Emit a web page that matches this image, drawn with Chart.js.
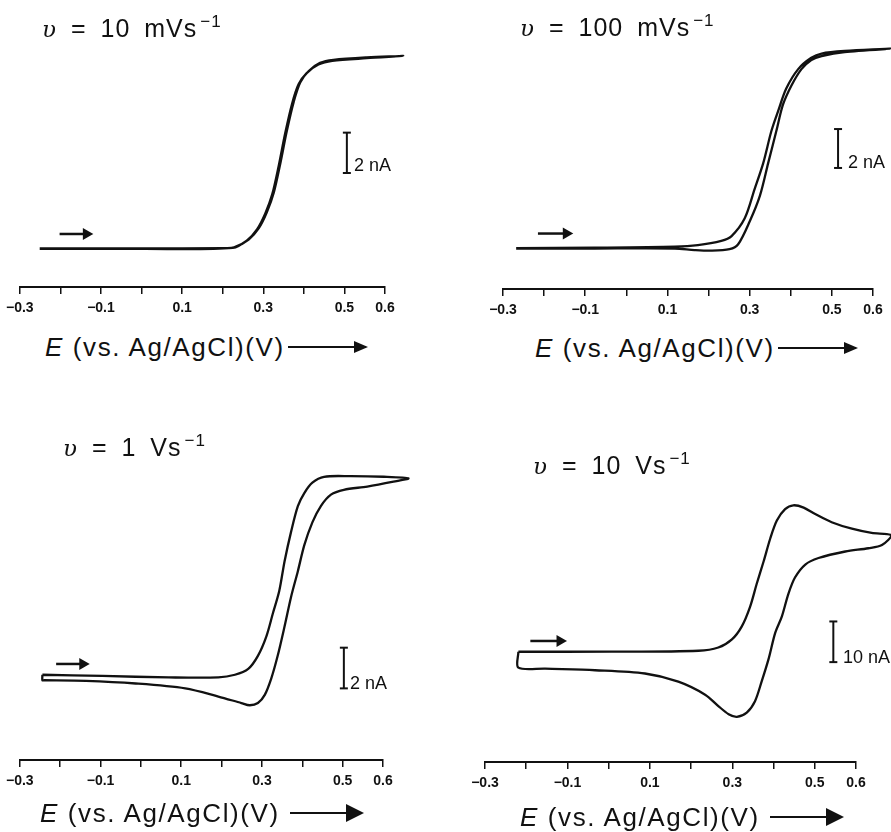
<!DOCTYPE html>
<html>
<head>
<meta charset="utf-8">
<script src="https://cdn.jsdelivr.net/npm/chart.js@4/dist/chart.umd.min.js"></script>
<style>
  html, body { margin: 0; padding: 0; background: #fff; }
  body { width: 891px; height: 832px; position: relative; overflow: hidden; font-family: "Liberation Sans", Arial, sans-serif; color: #111; }
  canvas { position: absolute; }
  .title { position: absolute; font-size: 25px; line-height: 25px; letter-spacing: 1px; word-spacing: 6px; white-space: nowrap; }
  .title i { font-family: "DejaVu Serif", serif; font-size: 23px; }
  .title sup { font-size: 17px; vertical-align: 10px; line-height: 0; margin-left: 3px; }
  .xlab { position: absolute; font-size: 26px; line-height: 26px; letter-spacing: 1.6px; white-space: nowrap; display: flex; align-items: center; }
  .arrow { position: relative; height: 2px; background: #111; margin-left: 3px; }
  .arrow::after { content: ""; position: absolute; right: -2px; top: -5px; border-left: 14px solid #111; border-top: 6px solid transparent; border-bottom: 6px solid transparent; }
  .arrow.big::after { top: -8px; border-left: 18px solid #111; border-top: 9px solid transparent; border-bottom: 9px solid transparent; }
  .scale { position: absolute; font-size: 18px; line-height: 18px; white-space: nowrap; }
</style>
</head>
<body>
<canvas id="c1" width="445" height="297" style="left:0;top:30px"></canvas>
<canvas id="c2" width="446" height="299" style="left:445px;top:30px"></canvas>
<canvas id="c3" width="445" height="340" style="left:0;top:460px"></canvas>
<canvas id="c4" width="446" height="332" style="left:445px;top:470px"></canvas>

<div class="title" style="left:42px;top:16px"><i>υ</i> = 10 mVs<sup>−1</sup></div>
<div class="title" style="left:520px;top:15px"><i>υ</i> = 100 mVs<sup>−1</sup></div>
<div class="title" style="left:63px;top:435px"><i>υ</i> = 1 Vs<sup>−1</sup></div>
<div class="title" style="left:533px;top:453px"><i>υ</i> = 10 Vs<sup>−1</sup></div>

<div class="scale" style="left:354px;top:156px">2 nA</div>
<div class="scale" style="left:848px;top:153px">2 nA</div>
<div class="scale" style="left:350px;top:674px">2 nA</div>
<div class="scale" style="left:843px;top:648px">10 nA</div>

<div class="xlab" style="left:45px;top:334px"><span><i>E</i> (vs. Ag/AgCl)(V)</span><span class="arrow" style="width:78px"></span></div>
<div class="xlab" style="left:535px;top:335px"><span><i>E</i> (vs. Ag/AgCl)(V)</span><span class="arrow" style="width:78px"></span></div>
<div class="xlab" style="left:40px;top:800px"><span><i>E</i> (vs. Ag/AgCl)(V)</span><span class="arrow big" style="width:72px;margin-left:10px"></span></div>
<div class="xlab" style="left:520px;top:804px"><span><i>E</i> (vs. Ag/AgCl)(V)</span><span class="arrow big" style="width:72px;margin-left:10px"></span></div>

<script>
// axis ticks (V)
const tickValues = [-0.3, -0.1, 0.1, 0.3, 0.5, 0.6];
const tickLabels = ['−0.3', '−0.1', '0.1', '0.3', '0.5', '0.6'];

// 10 mV/s  (current in nA)
const p1FwdE = [-0.251, 0.0, 0.2, 0.228, 0.264, 0.289, 0.309, 0.326, 0.342, 0.358, 0.375, 0.391, 0.412, 0.44, 0.473, 0.555, 0.645];
const p1FwdI = [0, 0, 0.02, 0.05, 0.44, 1.0, 1.79, 2.75, 4.17, 5.76, 7.19, 8.14, 8.7, 9.1, 9.25, 9.37, 9.44];
const p1RevE = [0.645, 0.555, 0.47, 0.436, 0.407, 0.387, 0.371, 0.354, 0.338, 0.322, 0.305, 0.285, 0.26, 0.225, 0.0, -0.251];
const p1RevI = [9.42, 9.33, 9.2, 9.02, 8.6, 8.05, 7.1, 5.65, 4.05, 2.65, 1.72, 0.95, 0.4, 0.03, -0.02, -0.02];

// 100 mV/s
const p2FwdE = [-0.268, -0.077, 0.118, 0.174, 0.231, 0.256, 0.288, 0.312, 0.333, 0.353, 0.369, 0.389, 0.418, 0.45, 0.475, 0.531, 0.643];
const p2FwdI = [0, 0.02, 0.07, 0.15, 0.37, 0.62, 1.53, 3.03, 4.37, 6.03, 7.03, 8.2, 9.2, 9.78, 10.0, 10.13, 10.25];
const p2RevE = [0.643, 0.531, 0.475, 0.45, 0.426, 0.402, 0.381, 0.365, 0.345, 0.325, 0.3, 0.272, 0.251, 0.207, 0.166, 0.118, -0.077, -0.268];
const p2RevI = [10.25, 10.08, 9.87, 9.67, 9.2, 8.37, 7.37, 6.03, 4.37, 2.7, 1.37, 0.2, -0.05, -0.13, -0.1, -0.02, -0.02, -0.03];

// 1 V/s
const p3FwdE = [-0.244, -0.095, 0.069, 0.192, 0.233, 0.266, 0.29, 0.311, 0.327, 0.343, 0.356, 0.372, 0.389, 0.405, 0.425, 0.454, 0.52, 0.602, 0.663];
const p3FwdI = [0.11, 0.05, -0.02, -0.02, 0.11, 0.4, 1.04, 2.0, 3.12, 4.24, 5.68, 7.12, 8.4, 9.04, 9.55, 9.84, 9.87, 9.84, 9.76];
const p3RevE = [0.663, 0.626, 0.561, 0.503, 0.471, 0.446, 0.425, 0.405, 0.389, 0.372, 0.356, 0.339, 0.323, 0.307, 0.29, 0.27, 0.249, 0.192, 0.11, -0.013, -0.136, -0.239, -0.244, -0.244];
const p3RevI = [9.76, 9.6, 9.36, 9.2, 8.96, 8.4, 7.6, 6.48, 5.2, 3.92, 2.48, 1.04, -0.08, -0.88, -1.28, -1.39, -1.28, -0.96, -0.56, -0.32, -0.19, -0.16, -0.16, 0.11];

// 10 V/s
const p4FwdE = [-0.219, 0.007, 0.218, 0.266, 0.299, 0.323, 0.343, 0.359, 0.376, 0.392, 0.408, 0.428, 0.448, 0.473, 0.501, 0.541, 0.59, 0.638, 0.685];
const p4FwdI = [0, 0, 0.24, 1.04, 3.04, 6.24, 11.04, 16.64, 22.24, 27.84, 32.24, 35.04, 36.0, 35.44, 33.84, 31.84, 30.24, 29.2, 28.64];
const p4RevE = [0.685, 0.663, 0.63, 0.574, 0.509, 0.477, 0.452, 0.436, 0.42, 0.404, 0.388, 0.371, 0.355, 0.335, 0.311, 0.291, 0.266, 0.234, 0.169, 0.088, -0.033, -0.154, -0.219, -0.219];
const p4RevI = [28.5, 26.24, 25.44, 24.64, 23.04, 21.44, 18.24, 14.24, 8.64, 4.64, -1.76, -7.36, -12.16, -14.96, -16.0, -15.36, -13.36, -10.56, -7.36, -5.36, -4.56, -4.16, -3.92, 0];

// sweep direction arrows: [E start, E end, I]
const p1Arrow = [-0.202, -0.136, 0.71];
const p2Arrow = [-0.215, -0.146, 0.75];
const p3Arrow = [-0.21, -0.144, 0.64];
const p4Arrow = [-0.19, -0.118, 2.64];
// current scale bars: [E, I low, I high]
const p1Bar = [0.506, 3.7, 5.68];
const p2Bar = [0.515, 4.12, 6.12];
const p3Bar = [0.503, -0.56, 1.44];
const p4Bar = [0.545, -2.56, 7.44];

const ink = '#111';
const pts = (xs, ys) => xs.map((x, k) => ({ x: x, y: ys[k] }));

function panel(id, fwd, rev, arrow, bar, yRange, pad) {
    // one dataset for the whole loop (unsorted x, so nothing past 0.6 gets dropped)
    const loop = pts(fwd[0], fwd[1]).concat(pts(rev[0], rev[1]).slice(1));
    const datasets = [{
        data: loop,
        borderColor: ink,
        borderWidth: 2.3,
        pointRadius: 0,
        tension: 0.3,
        clip: false
    }];
    // direction arrow
    datasets.push({
        data: [{ x: arrow[0], y: arrow[2] }, { x: arrow[1], y: arrow[2] }],
        borderColor: ink,
        backgroundColor: ink,
        borderWidth: 2.5,
        pointRadius: [0, 4.5],
        pointStyle: 'triangle',
        rotation: 90,
        clip: false
    });
    // scale bar
    datasets.push({
        data: [{ x: bar[0], y: bar[1] }, { x: bar[0], y: bar[2] }],
        borderColor: ink,
        borderWidth: 2,
        pointRadius: 4,
        pointBorderWidth: 2,
        pointStyle: 'line',
        clip: false
    });

    return new Chart(document.getElementById(id), {
        type: 'line',
        data: { datasets: datasets },
        options: {
            responsive: false,
            animation: false,
            layout: { padding: { left: pad[0], right: pad[1], top: 0, bottom: 0 } },
            plugins: { legend: { display: false }, tooltip: { enabled: false } },
            scales: {
                x: {
                    type: 'linear',
                    min: -0.3,
                    max: 0.6,
                    afterFit: s => { s.height = 40; },
                    border: { display: true, color: ink, width: 2 },
                    grid: { drawOnChartArea: false, drawTicks: true, tickLength: 7, color: ink, lineWidth: 1.5 },
                    ticks: {
                        stepSize: 0.1,
                        autoSkip: false,
                        maxRotation: 0,
                        padding: 6,
                        color: ink,
                        font: { family: 'Liberation Sans', size: 14, weight: 'bold' },
                        callback: v => {
                            const k = tickValues.findIndex(t => Math.abs(t - v) < 1e-6);
                            return k >= 0 ? tickLabels[k] : '';
                        }
                    }
                },
                y: { display: false, min: yRange[0], max: yRange[1] }
            }
        }
    });
}

panel('c1', [p1FwdE, p1FwdI], [p1RevE, p1RevI], p1Arrow, p1Bar, [-1.89, 10.37], [18, 60]);
panel('c2', [p2FwdE, p2FwdI], [p2RevE, p2RevI], p2Arrow, p2Bar, [-2.1, 10.85], [58, 18]);
panel('c3', [p3FwdE, p3FwdI], [p3RevE, p3RevI], p3Arrow, p3Bar, [-4.08, 10.32], [17, 62]);
panel('c4', [p4FwdE, p4FwdI], [p4RevE, p4RevI], p4Arrow, p4Bar, [-27.12, 42.96], [40, 35]);
</script>
</body>
</html>
